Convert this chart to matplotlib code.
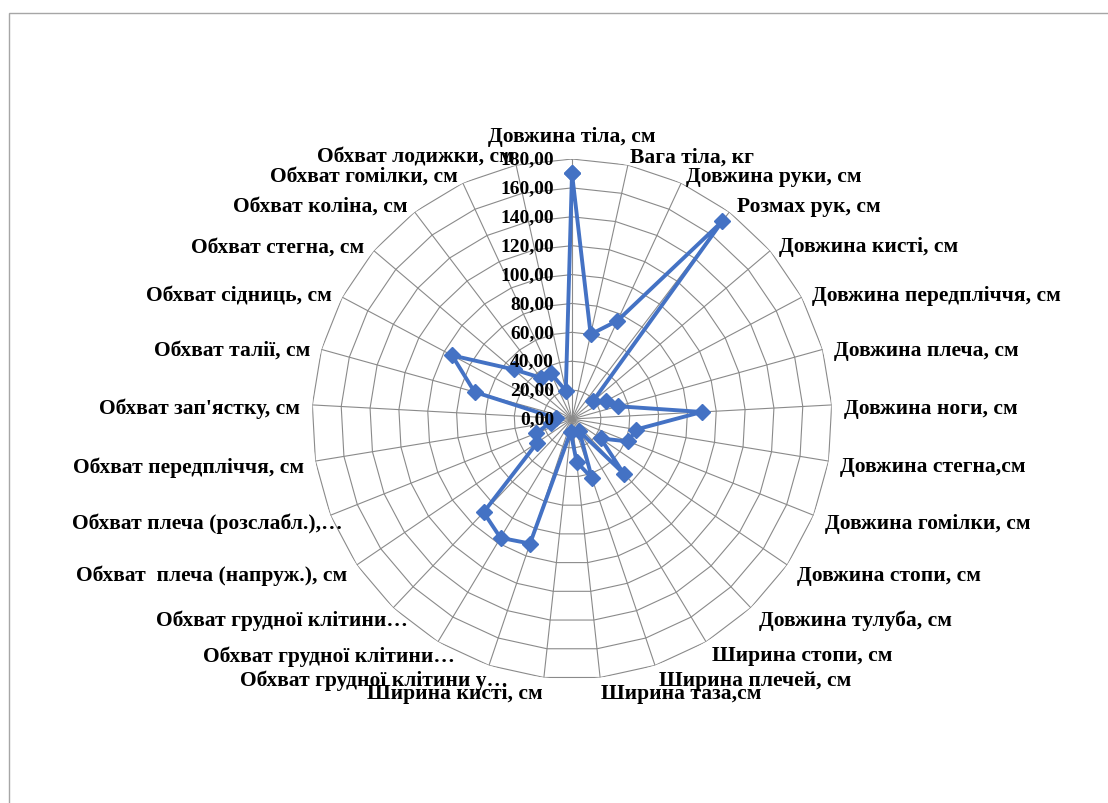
import numpy as np
import matplotlib
matplotlib.use('Agg')
import matplotlib.pyplot as plt
from matplotlib.patches import Rectangle

# categories around the radar, clockwise from the top
categories = [
    "Довжина тіла, см", "Вага тіла, кг", "Довжина руки, см", "Розмах рук, см",
    "Довжина кисті, см", "Довжина передпліччя, см", "Довжина плеча, см",
    "Довжина ноги, см", "Довжина стегна,см", "Довжина гомілки, см",
    "Довжина стопи, см", "Довжина тулуба, см", "Ширина стопи, см",
    "Ширина плечей, см", "Ширина таза,см", "Ширина кисті, см",
    "Обхват грудної клітини у…", "Обхват грудної клітини…",
    "Обхват грудної клітини…", "Обхват  плеча (напруж.), см",
    "Обхват плеча (розслабл.),…", "Обхват передпліччя, см",
    "Обхват зап'ястку, см", "Обхват талії, см", "Обхват сідниць, см",
    "Обхват стегна, см", "Обхват коліна, см", "Обхват гомілки, см",
    "Обхват лодижки, см",
]
values = [170, 60, 75, 172, 19, 27, 33, 90, 45, 42, 24, 52, 10, 43, 30, 9,
          91, 96, 89, 29, 27, 15, 11, 70, 94, 53, 36, 35, 20]
r_ticks = [0, 20, 40, 60, 80, 100, 120, 140, 160, 180]

plt.rcParams['font.family'] = ['Liberation Serif', 'DejaVu Serif']

fig = plt.figure(figsize=(11.08, 8.04), dpi=100)
ax = fig.add_axes([312 / 1108, 124 / 804, 520 / 1108, 520 / 804], projection='polar')
ax.set_theta_zero_location('N')
ax.set_theta_direction(-1)
ax.set_ylim(0, r_ticks[-1])
ax.grid(False)
ax.set_xticks([])
ax.set_yticks([])
ax.spines['polar'].set_visible(False)
ax.patch.set_alpha(0)

n = len(categories)
theta = np.arange(n) * 2 * np.pi / n
ring_t = np.append(theta, theta[0])

# polygon grid like excel's radar chart
grid_col = '#8a8a8a'
for r in r_ticks[1:]:
    ax.plot(ring_t, [r] * (n + 1), color=grid_col, lw=0.8, zorder=1)
for t in theta:
    ax.plot([t, t], [0, r_ticks[-1]], color=grid_col, lw=0.8, zorder=1)

vals = np.append(values, values[0])
ax.plot(ring_t, vals, color='#4472C4', lw=2.8, marker='D', ms=8, zorder=3)

# value labels along the vertical axis
for v in r_ticks:
    ax.annotate(f"{v:.2f}".replace('.', ','), xy=(0, v), xytext=(-13, 0),
                textcoords='offset points', ha='right', va='center',
                fontsize=14, fontweight='bold', zorder=5)

# category labels outside the outer ring
off = 8.6  # points
for t, lab in zip(theta, categories):
    s, c = np.sin(t), np.cos(t)
    dx, dy = s * off, c * off
    if lab.endswith('…'):
        dx -= np.sign(s) * 16.5
    if abs(s) < 0.01:
        ha, va = 'center', 'bottom'
        dy += 1
    else:
        ha = 'left' if s > 0 else 'right'
        va = 'center'
        dy -= 2.5
    ax.annotate(lab, xy=(t, r_ticks[-1]), xytext=(dx, dy), textcoords='offset points',
                ha=ha, va=va, fontsize=15.5, fontweight='bold', zorder=5,
                annotation_clip=False)

# chart frame
fig.add_artist(Rectangle((9 / 1108, -0.1), 1.2, 1 - 14 / 804 + 0.1,
                         transform=fig.transFigure, fill=False,
                         ec='#a6a6a6', lw=1))

fig.savefig('out.png', dpi=100)
